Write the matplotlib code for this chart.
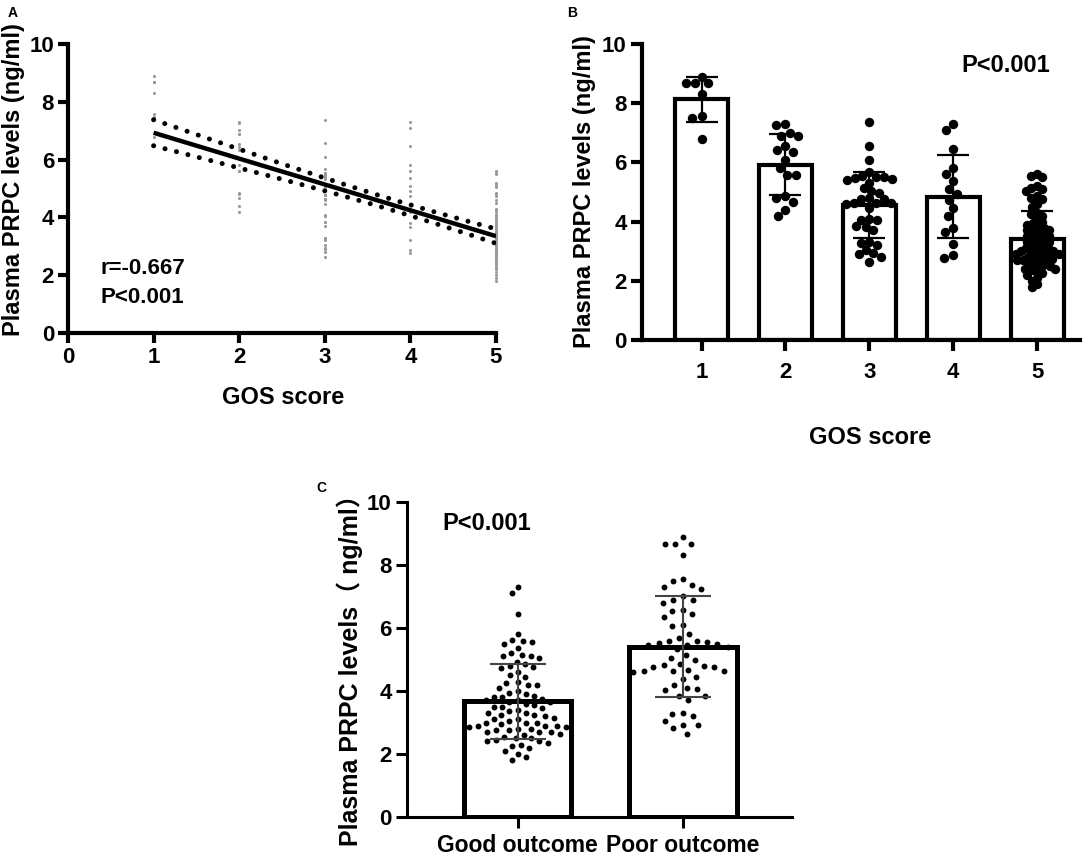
import numpy as np
import matplotlib
matplotlib.use("Agg")
import matplotlib.pyplot as plt

plt.rcParams['font.family'] = ['Liberation Sans', 'Noto Sans CJK SC', 'DejaVu Sans']
plt.rcParams['font.weight'] = 'bold'

# ---------------- data ----------------
gos_scores = [1, 2, 3, 4, 5]
gos1 = [8.90, 8.67, 8.67, 8.67, 8.31, 7.57, 7.49, 6.79]
gos2 = [7.29, 7.25, 7.01, 6.88, 6.88, 6.54, 6.43, 6.34, 6.07, 5.81, 5.59, 5.59,
        4.86, 4.81, 4.67, 4.39, 4.19]
gos3 = [7.38, 6.57, 6.09, 5.69, 5.55, 5.52, 5.50, 5.47, 5.45, 5.41, 5.32, 5.13,
        5.05, 4.98, 4.79, 4.76, 4.76, 4.64, 4.62, 4.62, 4.60, 4.45, 4.08, 4.06,
        4.04, 3.85, 3.83, 3.70, 3.30, 3.27, 3.22, 3.05, 2.93, 2.92, 2.82, 2.62]
gos4 = [7.29, 7.10, 6.46, 5.81, 5.61, 5.38, 5.10, 4.93, 4.74, 4.45, 4.19, 3.80,
        3.66, 3.23, 2.87, 2.76]
gos5 = [5.60, 5.55, 5.50, 5.20, 5.15, 5.10, 5.05, 4.85, 4.80, 4.75, 4.60, 4.50,
        4.30, 4.25, 4.20, 4.10, 4.00, 3.95, 3.90, 3.85, 3.80, 3.75, 3.70, 3.70,
        3.65, 3.60, 3.55, 3.50, 3.50, 3.45, 3.40, 3.35, 3.30, 3.30, 3.25, 3.20,
        3.15, 3.10, 3.10, 3.05, 3.00, 3.00, 2.95, 2.90, 2.90, 2.85, 2.80, 2.80,
        2.75, 2.70, 2.70, 2.65, 2.60, 2.55, 2.50, 2.45, 2.40, 2.40, 2.35, 2.30,
        2.25, 2.20, 2.10, 2.00, 1.90, 1.80, 3.00, 2.90, 2.70, 2.50]
groups = [gos1, gos2, gos3, gos4, gos5]
outcome_labels = ['Good outcome', 'Poor outcome']
good_outcome = gos4 + gos5
poor_outcome = gos1 + gos2 + gos3
outcomes = [good_outcome, poor_outcome]

ylabel = 'Plasma PRPC levels (ng/ml)'
ylabel_c = 'Plasma PRPC levels（ ng/ml）'

W, H = 1084, 857
fig = plt.figure(figsize=(W / 100, H / 100), dpi=100)


def rect(x0, x1, y0, y1):
    return [x0 / W, 1 - y0 / H, (x1 - x0) / W, (y0 - y1) / H]


def swarm_once(vals, yscale, d):
    order = np.argsort(-vals)
    placed = []
    out = np.zeros(len(vals))
    for i in order:
        y = vals[i] * yscale
        ints = []
        for px, py in placed:
            dy = abs(py - y)
            if dy < d:
                w = np.sqrt(d * d - dy * dy)
                ints.append((px - w, px + w))
        cands = [0.0] + [a for a, b in ints] + [b for a, b in ints]
        cands.sort(key=lambda c: (abs(c), c))
        x = 0.0
        for c in cands:
            if all(not (a + 1e-6 < c < b - 1e-6) for a, b in ints):
                x = c
                break
        placed.append((x, y))
        out[i] = x
    return out


def swarm(vals, xscale, yscale, d, max_half):
    vals = np.asarray(vals, float)
    dd = d
    while True:
        off = swarm_once(vals, yscale, dd)
        if np.max(np.abs(off)) <= max_half or dd < 2:
            return off / xscale
        dd *= 0.95


def style(ax, lw, tl):
    for s in ['top', 'right']:
        ax.spines[s].set_visible(False)
    for s in ['left', 'bottom']:
        ax.spines[s].set_linewidth(lw)
    ax.tick_params(direction='out', width=lw, length=tl, labelsize=16, pad=3)
    for t in ax.get_xticklabels() + ax.get_yticklabels():
        t.set_fontweight('bold')


# ---------------- panel A ----------------
axA = fig.add_axes(rect(68, 496, 333, 44))
xs_all = np.concatenate([[g] * len(v) for g, v in zip(gos_scores, groups)]).astype(float)
ys_all = np.concatenate(groups)
axA.scatter(xs_all, ys_all, s=5, color='#9a9a9a', zorder=2, clip_on=False, linewidths=0)
n = len(xs_all)
slope, intercept = np.polyfit(xs_all, ys_all, 1)
xl = np.linspace(1, 5, 200)
yl = intercept + slope * xl
resid = ys_all - (intercept + slope * xs_all)
s_res = np.sqrt(np.sum(resid ** 2) / (n - 2))
sxx = np.sum((xs_all - xs_all.mean()) ** 2)
half = 1.976 * s_res * np.sqrt(1 / n + (xl - xs_all.mean()) ** 2 / sxx)
axA.plot(xl, yl, color='black', lw=3.2, zorder=3, solid_capstyle='butt')
for sign in (1, -1):
    axA.plot(xl, yl + sign * half, color='black', lw=3.6,
             linestyle=(0, (0.01, 2.35)), dash_capstyle='round', zorder=3)
axA.set_xlim(0, 5)
axA.set_ylim(0, 10)
axA.set_xticks([0, 1, 2, 3, 4, 5])
axA.set_yticks([0, 2, 4, 6, 8, 10])
style(axA, 3.0, 7)
axA.text(100 / W, 1 - 268 / H, 'r=-0.667', transform=fig.transFigure, fontsize=16,
         fontweight='bold', ha='left', va='center')
axA.text(100 / W, 1 - 297 / H, 'P<0.001', transform=fig.transFigure, fontsize=16,
         fontweight='bold', ha='left', va='center')
fig.text(283 / W, 1 - 398 / H, 'GOS score', fontsize=17, fontweight='bold', ha='center', va='center')
fig.text(14 / W, 1 - 180 / H, ylabel, fontsize=17, fontweight='bold', ha='center',
         va='center', rotation=90)
fig.text(8 / W, 1 - 13 / H, 'A', fontsize=10, fontweight='bold', ha='left', va='center')

# ---------------- panel B ----------------
axB = fig.add_axes(rect(642, 1080, 340, 44))
xposB = np.array(gos_scores, float)
means = [np.mean(v) for v in groups]
sds = [np.std(v, ddof=1) for v in groups]
axB.bar(xposB, means, width=0.63, color='white', edgecolor='black', linewidth=3, zorder=1)
for xp, v in zip(xposB, groups):
    off = swarm(v, 84, 29.6, 9.4, 24)
    axB.scatter(xp + off, v, s=46, color='black', zorder=2, linewidths=0)
axB.errorbar(xposB, means, yerr=sds, fmt='none', ecolor='black', elinewidth=1.6,
             capsize=11.5, capthick=1.6, zorder=3)
axB.set_xlim(0.29, 5.51)
axB.set_ylim(0, 10)
axB.set_xticks(xposB)
axB.set_xticklabels([str(g) for g in gos_scores])
axB.set_yticks([0, 2, 4, 6, 8, 10])
style(axB, 3.0, 8)
axB.tick_params(axis='x', pad=8)
fig.text(1006 / W, 1 - 66 / H, 'P<0.001', fontsize=17, fontweight='bold', ha='center', va='center')
fig.text(870 / W, 1 - 438 / H, 'GOS score', fontsize=17, fontweight='bold', ha='center', va='center')
fig.text(585 / W, 1 - 192 / H, ylabel, fontsize=17, fontweight='bold', ha='center',
         va='center', rotation=90)
fig.text(567 / W, 1 - 13 / H, 'B', fontsize=10, fontweight='bold', ha='left', va='center')

# ---------------- panel C ----------------
axC = fig.add_axes(rect(407, 792, 817, 502))
xposC = np.array([0, 1], float)
meansC = [np.mean(v) for v in outcomes]
sdsC = [np.std(v, ddof=1) for v in outcomes]
axC.bar(xposC, meansC, width=0.65, color='white', edgecolor='black', linewidth=3.6, zorder=1)
for xp, v in zip(xposC, outcomes):
    off = swarm(v, 165, 31.5, 10.5, 52)
    axC.scatter(xp + off, v, s=18, color='black', zorder=2, linewidths=0)
axC.errorbar(xposC, meansC, yerr=sdsC, fmt='none', ecolor='#444444', elinewidth=1.5,
             capsize=20, capthick=1.5, zorder=3)
axC.set_xlim(-0.67, 1.66)
axC.set_ylim(0, 10)
axC.set_xticks(xposC)
axC.set_xticklabels(outcome_labels)
axC.set_yticks([0, 2, 4, 6, 8, 10])
style(axC, 2.2, 8)
axC.tick_params(axis='x', labelsize=16.5, pad=4)
fig.text(487 / W, 1 - 523 / H, 'P<0.001', fontsize=17, fontweight='bold', ha='center', va='center')
fig.text(350 / W, 1 - 664 / H, ylabel_c, fontsize=18, fontweight='bold', ha='center',
         va='center', rotation=90)
fig.text(316 / W, 1 - 488 / H, 'C', fontsize=10, fontweight='bold', ha='left', va='center')

fig.savefig('out.png', dpi=100)
